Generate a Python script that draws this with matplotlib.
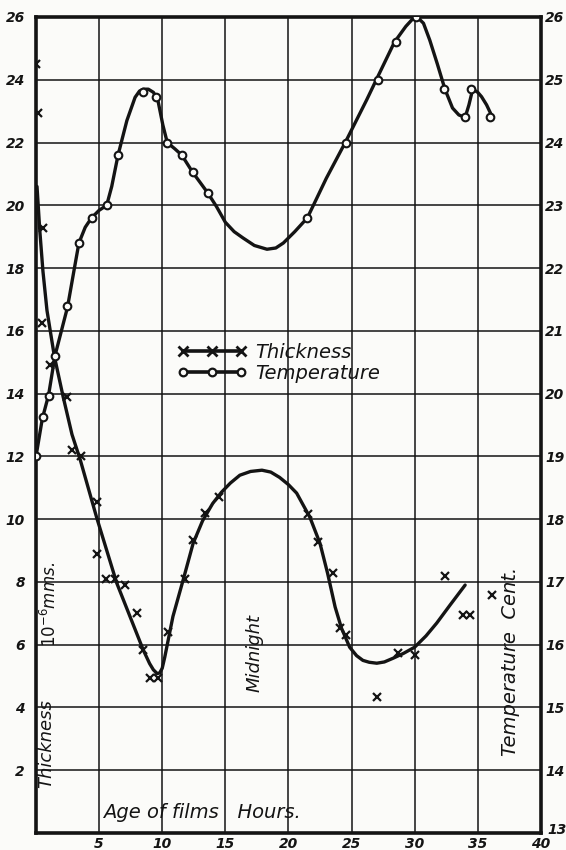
import numpy as np
import matplotlib
matplotlib.use("Agg")
import matplotlib.pyplot as plt
from matplotlib.lines import Line2D

# Age of films, hours -- thickness observations (10^-6 mms.)
thick_x = [0, 0.15, 0.55, 0.5, 1.1, 2.45, 2.85, 3.6, 4.8, 4.8, 5.55, 6.25, 7.05, 8.0,
           8.5, 9.0, 9.65, 10.45, 11.8, 12.45, 13.4, 14.5, 21.55, 22.35, 23.55, 24.1,
           24.55, 27.0, 28.7, 30.0, 32.4, 33.8, 34.35, 36.1]
thick_y = [24.5, 22.95, 19.27, 16.25, 14.9, 13.9, 12.2, 12.0, 10.55, 8.9, 8.1, 8.1, 7.9, 7.0,
           5.83, 4.93, 4.93, 6.4, 8.1, 9.33, 10.2, 10.7, 10.18, 9.27, 8.3, 6.53,
           6.3, 4.33, 5.73, 5.67, 8.2, 6.94, 6.94, 7.58]

# hand drawn thickness curve
thick_curve_x = [0.08, 0.3, 0.55, 0.87, 1.45, 2.15, 2.85, 3.5, 4.8, 6.4, 8.5, 9.0, 9.3, 9.6, 9.8, 10.0, 10.2,
                 10.85, 11.65, 12.45, 13.2, 14.0, 14.7, 15.4, 16.15, 17.0, 17.9, 18.6, 19.3, 20.0, 20.65,
                 21.7, 22.5, 23.1, 23.7, 24.2, 24.85, 25.4, 25.9, 26.4, 27.0, 27.6, 28.3, 29.1, 30.0,
                 30.9, 31.75, 32.8, 34.0]
thick_curve_y = [20.6, 19.2, 17.9, 16.65, 15.2, 13.9, 12.7, 11.9, 10.06, 7.96, 5.83, 5.4, 5.2, 5.08, 5.1,
                 5.25, 5.6, 6.9, 8.05, 9.23, 9.95, 10.5, 10.86, 11.15, 11.4, 11.52, 11.56, 11.5, 11.33,
                 11.1, 10.83, 10.06, 9.23, 8.28, 7.2, 6.53, 5.92, 5.65, 5.5, 5.44, 5.41, 5.45, 5.57,
                 5.72, 5.92, 6.28, 6.69, 7.26, 7.9]

# temperature observations (deg. Cent.)
temp_x = [0, 0.55, 1.0, 1.5, 2.45, 3.4, 4.4, 5.6, 6.5, 8.5, 9.5, 10.4, 11.6, 12.4, 13.6,
          21.5, 24.6, 27.1, 28.5, 30.1, 32.3, 34.0, 34.5, 36.0]
temp_y = [19.0, 19.62, 19.96, 20.6, 21.4, 22.4, 22.8, 23.0, 23.8, 24.8, 24.72, 24.0, 23.8, 23.53, 23.2,
          22.8, 24.0, 25.0, 25.6, 26.0, 24.85, 24.4, 24.85, 24.4]

temp_curve_x = [0, 0.5, 1.0, 1.5, 2.5, 3.0, 3.4, 3.9, 4.4, 5.0, 5.6, 6.0, 6.5, 7.2, 7.85, 8.2, 8.5, 8.9,
                9.3, 9.65, 10.05, 10.4, 11.0, 11.55, 12.4, 13.6, 14.3, 15.0, 15.7, 16.4, 17.3, 18.3,
                19.0, 19.6, 20.5, 21.5, 23.0, 24.5, 26.2, 27.2, 28.4, 29.3, 29.8, 30.2, 30.7, 31.2,
                31.8, 32.4, 33.0, 33.5, 34.0, 34.3, 34.6, 35.0, 35.3, 35.7, 36.1]
temp_curve_y = [19.0, 19.6, 19.98, 20.6, 21.38, 21.95, 22.4, 22.65, 22.8, 22.92, 23.0, 23.3, 23.8, 24.35,
                24.72, 24.82, 24.85, 24.85, 24.8, 24.68, 24.28, 24.0, 23.9, 23.8, 23.53, 23.2, 22.98,
                22.73, 22.58, 22.48, 22.36, 22.3, 22.32, 22.4, 22.58, 22.8, 23.43, 24.0, 24.68, 25.1,
                25.6, 25.85, 25.96, 26.0, 25.9, 25.63, 25.25, 24.85, 24.55, 24.44, 24.4, 24.6, 24.85,
                24.8, 24.73, 24.6, 24.43]

x_ticks = [5, 10, 15, 20, 25, 30, 35, 40]
left_ticks = [2, 4, 6, 8, 10, 12, 14, 16, 18, 20, 22, 24, 26]
right_ticks = [14, 15, 16, 17, 18, 19, 20, 21, 22, 23, 24, 25, 26]

ink = "#141414"
paper = "#fbfbf9"
plt.rcParams['font.family'] = ['DejaVu Sans']

fig = plt.figure(figsize=(5.66, 8.5), dpi=100, facecolor=paper)
ax = fig.add_axes([0.0636, 0.02, 0.892, 0.96])
ax.set_facecolor(paper)
ax.set_xlim(0, 40)
ax.set_ylim(0, 26)
ax.set_xticks(x_ticks)
ax.set_yticks(left_ticks)
ax.set_xticklabels([str(t) for t in x_ticks], style='italic', fontweight='bold', fontsize=10)
ax.set_yticklabels([str(t) for t in left_ticks], style='italic', fontweight='bold', fontsize=10)
ax.tick_params(axis='x', length=0, pad=3, colors=ink)
ax.tick_params(axis='y', length=0, pad=8, colors=ink)
ax.grid(True, color=ink, linewidth=1.1)
for s in ax.spines.values():
    s.set_linewidth(2.6)
    s.set_color(ink)

ax.plot(thick_curve_x, thick_curve_y, color=ink, lw=2.4, solid_joinstyle='round',
        solid_capstyle='round', zorder=3)
ax.plot(thick_x, thick_y, ls='none', marker='x', ms=6, mew=1.6, color=ink, zorder=4)

ax2 = ax.twinx()
ax2.set_ylim(13, 26)
ax2.set_yticks(right_ticks)
ax2.set_yticklabels([str(t) for t in right_ticks], style='italic', fontweight='bold', fontsize=10)
ax2.tick_params(length=0, pad=3, colors=ink)
for s in ax2.spines.values():
    s.set_visible(False)
ax2.plot(temp_curve_x, temp_curve_y, color=ink, lw=2.4, solid_joinstyle='round',
         solid_capstyle='round', zorder=3)
ax2.plot(temp_x, temp_y, ls='none', marker='o', ms=5.5, mew=1.5, mfc=paper, mec=ink, zorder=4)
ax2.text(1.012, -0.005, "13", transform=ax2.transAxes, style='italic', fontweight='bold',
         fontsize=10, color=ink, ha='left', va='bottom')

handles = [Line2D([], [], color=ink, lw=2.6, marker='x', ms=6.5, mew=2),
           Line2D([], [], color=ink, lw=2.6, marker='o', ms=5.5, mew=1.6, mfc=paper)]
leg = ax2.legend(handles, ["Thickness", "Temperature"], loc='center left',
                 bbox_to_anchor=(0.245, 0.576), frameon=False, numpoints=3,
                 handlelength=3.6, handletextpad=0.4, labelspacing=0.1,
                 prop={'style': 'italic', 'size': 14})
for t in leg.get_texts():
    t.set_color(ink)

ax.text(0.02, 0.11, "Thickness", transform=ax.transAxes, rotation=90, style='italic',
        fontsize=13, color=ink, ha='center', va='center')
ax.text(0.028, 0.28, r"$10^{-6}$mms.", transform=ax.transAxes, rotation=90, style='italic',
        fontsize=12, color=ink, ha='center', va='center')
ax.text(0.432, 0.22, "Midnight", transform=ax.transAxes, rotation=90, style='italic',
        fontsize=13, color=ink, ha='center', va='center')
ax.text(0.94, 0.21, "Temperature  Cent.", transform=ax.transAxes, rotation=90, style='italic',
        fontsize=14, color=ink, ha='center', va='center')
ax.text(0.133, 0.013, "Age of films   Hours.", transform=ax.transAxes, style='italic',
        fontsize=14, color=ink, ha='left', va='bottom')

fig.savefig("out.png", dpi=100, facecolor=paper)
